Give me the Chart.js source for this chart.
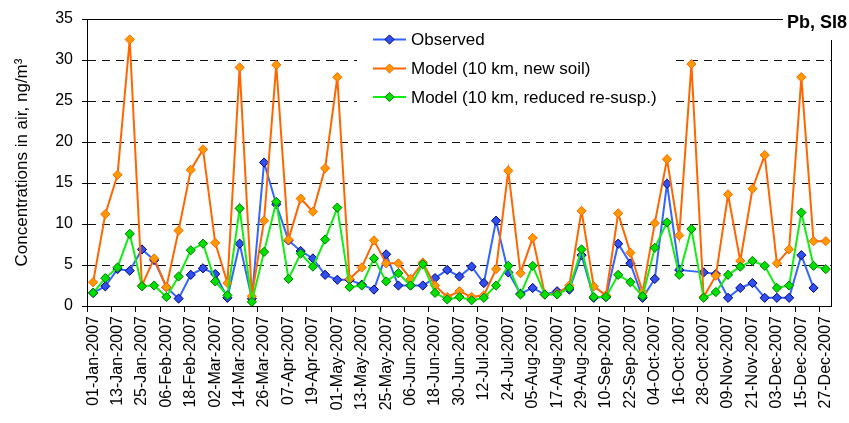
<!DOCTYPE html>
<html>
<head>
<meta charset="utf-8">
<script src="https://cdn.jsdelivr.net/npm/chart.js@4.4.0/dist/chart.umd.min.js"></script>
<style>
  html, body { margin: 0; padding: 0; background: #fff; }
  #wrap { width: 849px; height: 423px; position: relative; }
</style>
</head>
<body>
<div id="wrap"><canvas id="c" width="849" height="423"></canvas></div>
<script>
// Sampling dates (every 6 days through 2007)
const categories = [
  '01-Jan-2007','07-Jan-2007','13-Jan-2007','19-Jan-2007','25-Jan-2007','31-Jan-2007',
  '06-Feb-2007','12-Feb-2007','18-Feb-2007','24-Feb-2007','02-Mar-2007','08-Mar-2007',
  '14-Mar-2007','20-Mar-2007','26-Mar-2007','01-Apr-2007','07-Apr-2007','13-Apr-2007',
  '19-Apr-2007','25-Apr-2007','01-May-2007','07-May-2007','13-May-2007','19-May-2007',
  '25-May-2007','31-May-2007','06-Jun-2007','12-Jun-2007','18-Jun-2007','24-Jun-2007',
  '30-Jun-2007','06-Jul-2007','12-Jul-2007','18-Jul-2007','24-Jul-2007','30-Jul-2007',
  '05-Aug-2007','11-Aug-2007','17-Aug-2007','23-Aug-2007','29-Aug-2007','04-Sep-2007',
  '10-Sep-2007','16-Sep-2007','22-Sep-2007','28-Sep-2007','04-Oct-2007','10-Oct-2007',
  '16-Oct-2007','22-Oct-2007','28-Oct-2007','03-Nov-2007','09-Nov-2007','15-Nov-2007',
  '21-Nov-2007','27-Nov-2007','03-Dec-2007','09-Dec-2007','15-Dec-2007','21-Dec-2007',
  '27-Dec-2007'
];

// Pb concentrations in air, ng/m3
const observed = [
  1.6, 2.4, 4.5, 4.3, 6.9, 5.6, 2.3, 0.9, 3.8, 4.6,
  3.9, 1.0, 7.6, 0.9, 17.5, 12.4, 8.0, 6.7, 5.8, 3.8,
  3.2, 3.2, 2.6, 2.0, 6.3, 2.5, 2.5, 2.5, 3.4, 4.4,
  3.6, 4.8, 2.8, 10.4, 4.1, 1.5, 2.2, 1.4, 1.8, 2.0,
  6.2, 1.0, 1.1, 7.6, 5.2, 1.0, 3.3, 14.9, 4.4, null,
  4.1, 3.9, 1.0, 2.2, 2.8, 1.0, 1.0, 1.0, 6.2, 2.2,
  null
];
const modelNewSoil = [
  2.9, 11.2, 16.0, 32.5, 2.5, 5.8, 2.3, 9.2, 16.6, 19.1,
  7.7, 2.8, 29.1, 1.2, 10.4, 29.4, 8.1, 13.1, 11.5, 16.8,
  27.9, 3.3, 4.7, 8.0, 5.2, 5.2, 3.3, 5.3, 2.5, 1.1,
  1.8, 1.1, 1.3, 4.5, 16.5, 4.0, 8.3, 1.4, 1.5, 2.5,
  11.6, 2.4, 1.3, 11.3, 6.5, 1.7, 10.1, 17.9, 8.6, 29.5,
  1.1, 3.7, 13.6, 5.5, 14.3, 18.4, 5.2, 6.9, 27.9, 7.9,
  7.9
];
const modelReducedResusp = [
  1.6, 3.4, 4.7, 8.8, 2.4, 2.5, 1.1, 3.6, 6.8, 7.6,
  3.0, 1.3, 11.9, 0.5, 6.6, 12.7, 3.3, 6.4, 4.8, 8.1,
  12.0, 2.3, 2.5, 5.8, 3.0, 4.0, 2.5, 5.1, 1.6, 0.8,
  1.1, 0.7, 1.0, 2.5, 4.9, 1.4, 4.9, 1.4, 1.4, 2.2,
  6.9, 1.1, 1.1, 3.8, 2.9, 1.2, 7.1, 10.2, 3.8, 9.4,
  1.0, 1.7, 3.8, 4.8, 5.5, 4.9, 2.2, 2.5, 11.4, 4.9,
  4.5
];

const seriesNames = ['Observed', 'Model (10 km, new soil)', 'Model (10 km, reduced re-susp.)'];
const yTickValues = [0, 5, 10, 15, 20, 25, 30, 35];
const yAxisTitle = 'Concentrations in air, ng/m\u00B3';
const stationLabel = 'Pb, SI8';

const FONT = '"Liberation Sans", Arial, Helvetica, sans-serif';

const styles = [
  { line: '#3366FF', fill: '#3050EE', edge: '#000080' },
  { line: '#FF6600', fill: '#FF9900', edge: '#FF6600' },
  { line: '#11EE11', fill: '#00E000', edge: '#007A00' }
];

function makeSet(label, data, st, order) {
  return {
    label, data, order,
    borderColor: st.line,
    borderWidth: 2,
    pointStyle: 'rectRot',
    pointRadius: 4.6,
    pointHoverRadius: 4.6,
    pointBackgroundColor: st.fill,
    pointBorderColor: st.edge,
    pointBorderWidth: 1,
    tension: 0,
    spanGaps: true,
    fill: false
  };
}

function diamond(ctx, x, y, r, fill, edge) {
  ctx.beginPath();
  ctx.moveTo(x, y - r);
  ctx.lineTo(x + r, y);
  ctx.lineTo(x, y + r);
  ctx.lineTo(x - r, y);
  ctx.closePath();
  ctx.fillStyle = fill;
  ctx.fill();
  ctx.lineWidth = 1;
  ctx.strokeStyle = edge;
  ctx.stroke();
}

// Dashed value grid, frame, in-plot legend panel and the station tag
const decorations = {
  id: 'decorations',
  beforeDatasetsDraw(chart) {
    const { ctx, chartArea: a } = chart;
    const yScale = chart.scales.y;
    ctx.save();
    // dashed horizontal grid at the inner tick values, drawn as short segments
    ctx.fillStyle = '#111';
    const dash = 8, gap = 6;
    yTickValues.slice(1, -1).forEach(v => {
      const py = Math.round(yScale.getPixelForValue(v));
      for (let x = Math.round(a.left) + 1; x < a.right - 1; x += dash + gap) {
        const w = Math.min(dash, a.right - 1 - x);
        ctx.fillRect(x, py, w, 1);
      }
    });
    // legend panel hides the grid behind it
    ctx.fillStyle = '#fff';
    ctx.fillRect(357, 22, 314, 90);
    // plot frame
    ctx.strokeStyle = '#000';
    ctx.lineWidth = 1;
    ctx.strokeRect(Math.round(a.left) + 0.5, Math.round(a.top) + 0.5,
                   Math.round(a.right - a.left) - 1, Math.round(a.bottom - a.top));
    // legend entries
    const rows = [39.5, 68.5, 97];
    ctx.font = '17px ' + FONT;
    ctx.textBaseline = 'middle';
    ctx.textAlign = 'left';
    seriesNames.forEach((name, i) => {
      const y = rows[i];
      const st = styles[i];
      ctx.beginPath();
      ctx.moveTo(373, y);
      ctx.lineTo(406, y);
      ctx.strokeStyle = st.line;
      ctx.lineWidth = 2;
      ctx.stroke();
      diamond(ctx, 389.5, y, 4.6, st.fill, st.edge);
      ctx.fillStyle = '#000';
      ctx.fillText(name, 411, y + 1);
    });
    ctx.restore();
  },
  afterDraw(chart) {
    const { ctx } = chart;
    ctx.save();
    ctx.fillStyle = '#fff';
    ctx.fillRect(783, 0, 66, 40);
    ctx.fillStyle = '#000';
    ctx.font = 'bold 18px ' + FONT;
    ctx.textAlign = 'right';
    ctx.textBaseline = 'alphabetic';
    ctx.fillText(stationLabel, 847, 28);
    ctx.restore();
  }
};

new Chart(document.getElementById('c'), {
  type: 'line',
  data: {
    labels: categories,
    datasets: [
      makeSet(seriesNames[0], observed, styles[0], 3),
      makeSet(seriesNames[1], modelNewSoil, styles[1], 2),
      makeSet(seriesNames[2], modelReducedResusp, styles[2], 1)
    ]
  },
  options: {
    responsive: false,
    animation: false,
    devicePixelRatio: 1,
    layout: { padding: { top: 19, right: 6, left: 0, bottom: 0 } },
    plugins: {
      legend: { display: false },
      tooltip: { enabled: false }
    },
    scales: {
      x: {
        type: 'category',
        offset: true,
        grid: {
          offset: true,
          drawOnChartArea: false,
          tickLength: 6,
          color: (c) => (c.index % 2 === 0 ? '#000' : 'rgba(0,0,0,0)')
        },
        border: { display: false },
        ticks: {
          autoSkip: false,
          maxRotation: 90,
          minRotation: 90,
          padding: 4,
          color: '#000',
          font: { family: FONT, size: 16 },
          callback: (v, i) => (i % 2 === 0 ? categories[i] : '')
        },
        afterFit: (s) => { s.height = 117; }
      },
      y: {
        min: 0,
        max: 35,
        afterBuildTicks: (s) => { s.ticks = yTickValues.map(v => ({ value: v })); },
        grid: {
          drawOnChartArea: false,
          color: '#000',
          tickLength: 5,
          lineWidth: 1
        },
        border: { display: false },
        ticks: {
          padding: 9,
          color: '#000',
          font: { family: FONT, size: 16 }
        },
        title: {
          display: true,
          text: yAxisTitle,
          color: '#000',
          font: { family: FONT, size: 17 },
          padding: { top: 12, bottom: 0 }
        },
        afterFit: (s) => { s.width = 87; }
      }
    }
  },
  plugins: [decorations]
});
</script>
</body>
</html>
